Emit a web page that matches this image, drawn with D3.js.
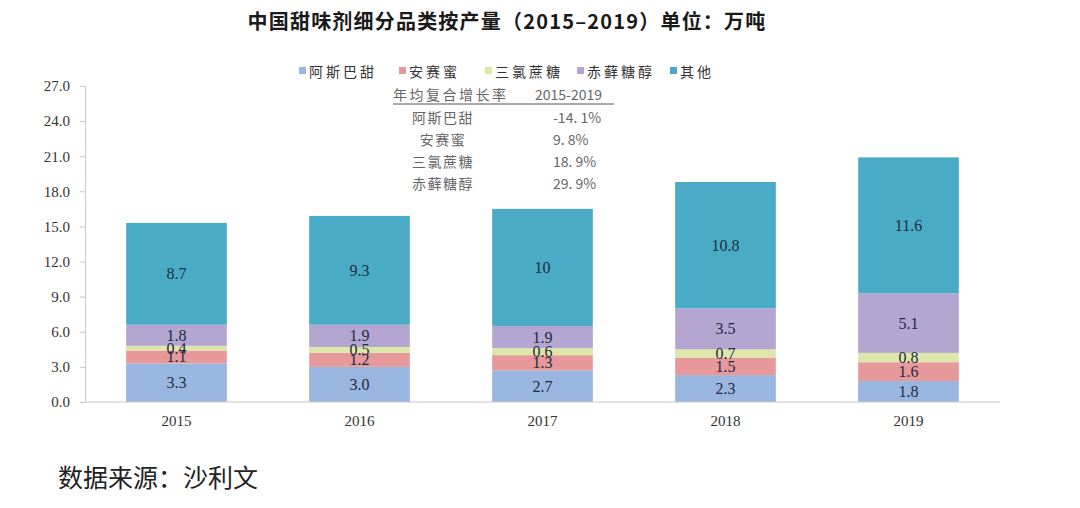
<!DOCTYPE html>
<html>
<head>
<meta charset="utf-8">
<script src="https://cdn.jsdelivr.net/npm/d3@7"></script>
<style>
  html, body { margin: 0; padding: 0; background: #fff; }
  svg { display: block; }
  .cjk { font-family: "Noto Sans CJK SC", "Noto Sans", sans-serif; }
  .num { font-family: "Liberation Serif", "DejaVu Serif", serif; }
</style>
</head>
<body>
<svg id="chart" width="1080" height="508"></svg>
<script>
// Data
const years = ["2015", "2016", "2017", "2018", "2019"];
const seriesNames = ["阿斯巴甜", "安赛蜜", "三氯蔗糖", "赤藓糖醇", "其他"];
const aspartame = [3.3, 3.0, 2.7, 2.3, 1.8];
const acesulfame = [1.1, 1.2, 1.3, 1.5, 1.6];
const sucralose = [0.4, 0.5, 0.6, 0.7, 0.8];
const erythritol = [1.8, 1.9, 1.9, 3.5, 5.1];
const others = [8.7, 9.3, 10, 10.8, 11.6];
const yTicks = [0, 3, 6, 9, 12, 15, 18, 21, 24, 27];
const cagrNames = ["阿斯巴甜", "安赛蜜", "三氯蔗糖", "赤藓糖醇"];
const cagrValues = ["-14.1%", "9.8%", "18.9%", "29.9%"];

const colors = ["#98b6df", "#e6989a", "#dde7aa", "#b4a5d1", "#4aabc6"];

const svg = d3.select("#chart");
const margin = { left: 85, right: 80, top: 86, bottom: 106 };
const W = 1080, H = 508;

// Build row table for stacking
const rows = years.map((y, i) => ({
  year: y,
  [seriesNames[0]]: aspartame[i],
  [seriesNames[1]]: acesulfame[i],
  [seriesNames[2]]: sucralose[i],
  [seriesNames[3]]: erythritol[i],
  [seriesNames[4]]: others[i]
}));
const stacked = d3.stack().keys(seriesNames)(rows);

const x = d3.scaleBand()
  .domain(years)
  .range([margin.left, W - margin.right])
  .paddingInner(0.45)
  .paddingOuter(0.225);

const y = d3.scaleLinear()
  .domain([0, 27])
  .range([H - margin.bottom, margin.top]);

// Title
svg.append("text")
  .attr("class", "cjk")
  .attr("x", 507)
  .attr("y", 29)
  .attr("text-anchor", "middle")
  .style("font-size", "20px")
  .style("font-weight", "bold")
  .style("letter-spacing", "1.2px")
  .attr("fill", "#1a1a1a")
  .text("中国甜味剂细分品类按产量（2015–2019）单位：万吨");

// Bars
const layers = svg.append("g").selectAll("g")
  .data(stacked)
  .enter().append("g")
  .attr("fill", (d, i) => colors[i]);

layers.selectAll("rect")
  .data(d => d)
  .enter().append("rect")
  .attr("x", d => x(d.data.year))
  .attr("width", x.bandwidth())
  .attr("y", d => y(d[1]))
  .attr("height", d => y(d[0]) - y(d[1]));

// Value labels (small segments overlap, as in the original)
const fmtVal = v => (v === 10 ? "10" : v.toFixed(1));
stacked.forEach((layer) => {
  svg.append("g").selectAll("text")
    .data(layer)
    .enter().append("text")
    .attr("class", "num")
    .attr("x", d => x(d.data.year) + x.bandwidth() / 2)
    .attr("y", d => (y(d[0]) + y(d[1])) / 2)
    .attr("text-anchor", "middle")
    .attr("dominant-baseline", "central")
    .style("font-size", "16px")
    .attr("fill", "#1d2b3c")
    .text(d => fmtVal(+(d[1] - d[0]).toFixed(1)));
});

// Y axis
const yAxis = d3.axisLeft(y)
  .tickValues(yTicks)
  .tickSize(5)
  .tickPadding(10)
  .tickFormat(d3.format(".1f"));
const gy = svg.append("g")
  .attr("transform", `translate(${margin.left},0)`)
  .call(yAxis);
gy.select(".domain").attr("stroke", "#c8c8c8");
gy.selectAll(".tick line").attr("stroke", "#c8c8c8");
gy.selectAll(".tick text")
  .attr("class", "num")
  .style("font-size", "15px")
  .attr("fill", "#333");

// X axis
const xAxis = d3.axisBottom(x).tickSize(0).tickPadding(13);
const gx = svg.append("g")
  .attr("transform", `translate(0,${H - margin.bottom})`)
  .call(xAxis);
gx.select(".domain").attr("stroke", "#c8c8c8").attr("d", `M${margin.left},0H${W - margin.right}`);
gx.selectAll(".tick text")
  .attr("class", "num")
  .style("font-size", "15px")
  .attr("fill", "#333");

// Legend
const legendX = [299, 399, 485, 577, 670];
const legend = svg.append("g").selectAll("g")
  .data(seriesNames)
  .enter().append("g")
  .attr("transform", (d, i) => `translate(${legendX[i]},71)`);
legend.append("rect")
  .attr("x", 0).attr("y", -4)
  .attr("width", 7).attr("height", 7)
  .attr("fill", (d, i) => colors[i]);
legend.append("text")
  .attr("class", "cjk")
  .attr("x", 10)
  .attr("y", 0)
  .attr("dominant-baseline", "central")
  .style("font-size", "14px")
  .style("letter-spacing", "3px")
  .attr("fill", "#333")
  .text(d => d);

// CAGR table
const tbl = svg.append("g").attr("fill", "#666");
tbl.append("text")
  .attr("class", "cjk")
  .attr("x", 393).attr("y", 94)
  .attr("dominant-baseline", "central")
  .style("font-size", "14px")
  .style("letter-spacing", "2.5px")
  .text("年均复合增长率");
tbl.append("text")
  .attr("class", "cjk")
  .attr("x", 535).attr("y", 94)
  .attr("dominant-baseline", "central")
  .style("font-size", "14px")
  .text("2015-2019");
tbl.append("line")
  .attr("x1", 393).attr("x2", 614)
  .attr("y1", 104).attr("y2", 104)
  .attr("stroke", "#555").attr("stroke-width", 1);
cagrNames.forEach((n, i) => {
  const ry = 117 + i * 22;
  tbl.append("text")
    .attr("class", "cjk")
    .attr("x", 443).attr("y", ry)
    .attr("text-anchor", "middle")
    .attr("dominant-baseline", "central")
    .style("font-size", "14px")
    .style("letter-spacing", "1.5px")
    .text(n);
  tbl.append("text")
    .attr("class", "cjk")
    .attr("x", 553).attr("y", ry)
    .attr("dominant-baseline", "central")
    .style("font-size", "14px")
    .text(cagrValues[i].replace(".", ". "));
});

// Source note
svg.append("text")
  .attr("class", "cjk")
  .attr("x", 58)
  .attr("y", 487)
  .style("font-size", "25px")
  .attr("fill", "#222")
  .text("数据来源：沙利文");
</script>
</body>
</html>
